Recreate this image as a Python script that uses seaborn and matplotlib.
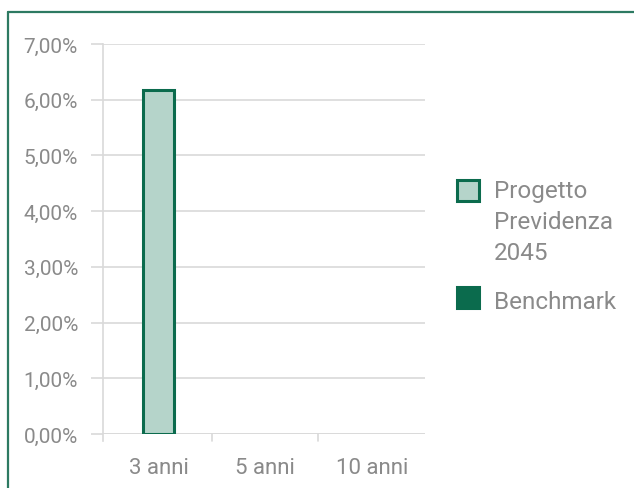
import matplotlib
matplotlib.use("Agg")
import matplotlib.pyplot as plt
from matplotlib.patches import Rectangle
from matplotlib.lines import Line2D
import seaborn as sns
import numpy as np
import pandas as pd

# Rendimenti per orizzonte temporale
periodi = ["3 anni", "5 anni", "10 anni"]
progetto = [6.18, np.nan, np.nan]
benchmark = [np.nan, np.nan, np.nan]
serie = ["Progetto\nPrevidenza\n2045", "Benchmark"]
y_ticks = [0, 1, 2, 3, 4, 5, 6, 7]

df = pd.DataFrame({
    "Periodo": periodi * 2,
    "Rendimento": progetto + benchmark,
    "Serie": [serie[0]] * 3 + [serie[1]] * 3,
})

fill_light = "#b5d4ca"
dark_green = "#0b6b4d"
grid_col = "#d9d9d9"
text_col = "#8a8a8a"
weight = "normal"

sns.set_theme(style="white")
plt.rcParams["font.family"] = ["Roboto", "DejaVu Sans"]

W, H = 634, 489
fig = plt.figure(figsize=(W / 100, H / 100), dpi=100)
ax = fig.add_axes([103 / W, (H - 435) / H, (425 - 103) / W, (435 - 45) / H])

sns.barplot(data=df, x="Periodo", y="Rendimento", hue="Serie", dodge=False,
            palette=[fill_light, dark_green], width=0.29, ax=ax, legend=False,
            edgecolor=dark_green, linewidth=2.2, saturation=1, zorder=3)

ax.set_xlim(-0.52, 2.5)
ax.set_ylim(0, 7)
ax.set_yticks(y_ticks)
ax.set_yticklabels([f"{v:.2f}%".replace(".", ",") for v in y_ticks],
                   fontsize=15, color=text_col, fontweight=weight)
ax.set_xticks([0, 1, 2])
ax.set_xticklabels(periodi, fontsize=16, color=text_col, fontweight=weight)
ax.tick_params(axis="x", length=0, pad=16.5)
ax.tick_params(axis="y", length=9, color=grid_col, width=1.2, pad=9, left=True)
ax.set_xlabel("")
ax.set_ylabel("")

for s in ["top", "right", "bottom"]:
    ax.spines[s].set_visible(False)
ax.spines["left"].set_color(grid_col)
ax.spines["left"].set_linewidth(1.2)
ax.spines["left"].set_bounds(-0.12, 7)

ax.grid(axis="y", color=grid_col, linewidth=1.2, zorder=0)
ax.axhline(0, color=grid_col, linewidth=1.2, zorder=1)

# Separatori tra le categorie sotto l'asse
for xb in [0.5, 1.5]:
    ax.plot([xb, xb], [0, -0.12], color=grid_col, linewidth=1.2, clip_on=False)

# Legenda: quadratino allineato alla prima riga dell'etichetta
legend_items = [
    (serie[0], fill_light, 181, 198),
    (serie[1], dark_green, 288, 309),
]
for label, col, top_px, base_px in legend_items:
    fig.add_artist(Rectangle((457 / W, 1 - (top_px + 21) / H), 22 / W, 21 / H,
                             facecolor=col, edgecolor=dark_green, linewidth=2.2,
                             transform=fig.transFigure))
    for i, line in enumerate(label.split("\n")):
        fig.text(494 / W, 1 - (base_px + 31 * i) / H, line, fontsize=17.5,
                 color=text_col, fontweight=weight, va="baseline", ha="left")

# Cornice verde della scheda
fig.add_artist(Line2D([8 / W, 1.0], [1 - 13 / H, 1 - 13 / H], color="#2d7a62",
                      linewidth=1.6, transform=fig.transFigure))
fig.add_artist(Line2D([8 / W, 8 / W], [0.0, 1 - 13 / H], color="#2d7a62",
                      linewidth=1.6, transform=fig.transFigure))

fig.savefig("out.png", dpi=100, facecolor="white")
